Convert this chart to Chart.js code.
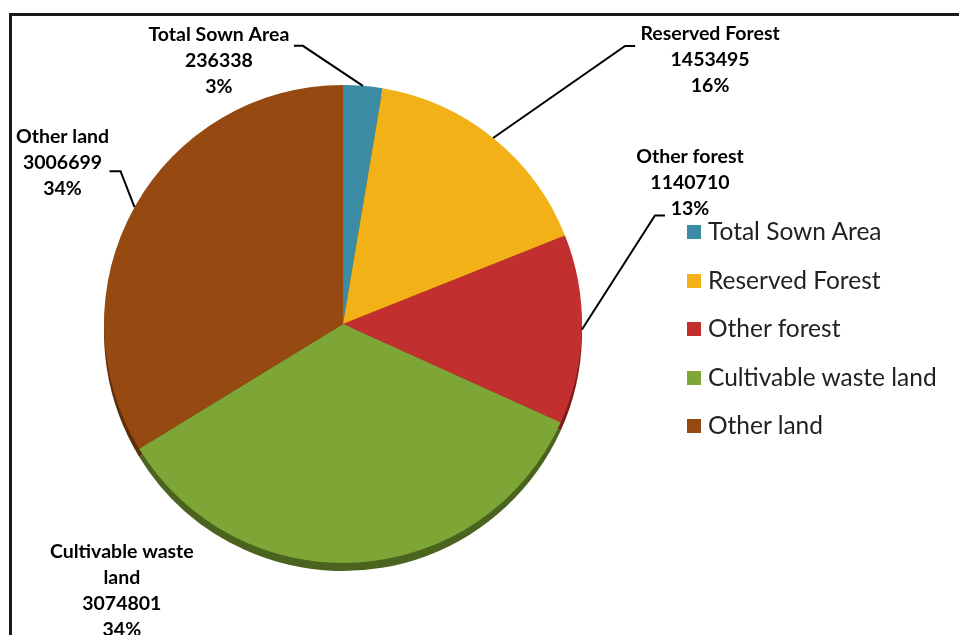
<!DOCTYPE html>
<html>
<head>
<meta charset="utf-8">
<script src="https://cdn.jsdelivr.net/npm/chart.js@4/dist/chart.umd.min.js"></script>
<style>
  html, body { margin: 0; padding: 0; background: #fff; overflow: hidden; }
  #wrap { position: relative; width: 959px; height: 635px; overflow: hidden; }
  #lineTop { position: absolute; left: 9px; top: 13px; width: 950px; height: 3px; background: #1a1a1a; }
  #lineLeft { position: absolute; left: 9px; top: 13px; width: 3px; height: 622px; background: #1a1a1a; }
  #myChart { position: absolute; left: 0; top: 0; }
  #legend { position: absolute; left: 687px; top: 214px; font-family: Lato, sans-serif; font-size: 24.5px; color: #222; }
  #legend div { height: 48.5px; line-height: 34px; white-space: nowrap; }
  #legend span.box { display: inline-block; width: 14px; height: 14px; margin-right: 7px; vertical-align: 1px; }
</style>
</head>
<body>
<div id="wrap">
  <div id="lineTop"></div>
  <div id="lineLeft"></div>
  <canvas id="myChart" width="959" height="635"></canvas>
  <div id="legend"></div>
</div>
<script>
// land use data
var labels = ['Total Sown Area', 'Reserved Forest', 'Other forest', 'Cultivable waste land', 'Other land'];
var values = [236338, 1453495, 1140710, 3074801, 3006699];
var percents = [3, 16, 13, 34, 34]; // as printed on the chart
var colors = ['#3b8ca4', '#f2b116', '#c1302f', '#7ea637', '#964a12'];
var rimColors = ['#245868', '#9a700c', '#7a1c1b', '#4a6420', '#5e2d0a'];

// label text lines (excel style, wrapped)
var labelLines = [
  ['Total Sown Area'],
  ['Reserved Forest'],
  ['Other forest'],
  ['Cultivable waste', 'land'],
  ['Other land']
];

// label placement, relative to the slice edge point
var labelOpts = [
  { tx: -144, ty: -51, ex: -60, ey: -40, hx: -9 },
  { tx: 217, ty: -104, ex: 132, ey: -92, hx: 10 },
  { tx: 108, ty: -173, ex: 73, ey: -114, hx: 10 },
  { tx: -236, ty: -11, ex: null },
  { tx: -72, ty: -70, ex: -14, ey: -36, hx: -11 }
];

var rimPlugin = {
  id: 'rim',
  beforeDatasetsDraw: function (chart) {
    var ctx = chart.ctx;
    var arcs = chart.getDatasetMeta(0).data;
    ctx.save();
    arcs.forEach(function (arc, i) {
      var p = arc.getProps(['x', 'y', 'startAngle', 'endAngle', 'outerRadius']);
      ctx.beginPath();
      ctx.moveTo(p.x, p.y + 8);
      ctx.arc(p.x, p.y + 8, p.outerRadius, p.startAngle, p.endAngle);
      ctx.closePath();
      ctx.fillStyle = rimColors[i];
      ctx.fill();
    });
    ctx.restore();
  }
};

var labelPlugin = {
  id: 'outLabels',
  afterDatasetsDraw: function (chart) {
    var ctx = chart.ctx;
    var arcs = chart.getDatasetMeta(0).data;
    ctx.save();
    arcs.forEach(function (arc, i) {
      var p = arc.getProps(['x', 'y', 'startAngle', 'endAngle', 'outerRadius']);
      var mid = (p.startAngle + p.endAngle) / 2;
      var px = p.x + Math.cos(mid) * p.outerRadius;
      var py = p.y + Math.sin(mid) * p.outerRadius;
      var o = labelOpts[i];
      if (o.ex !== null) {
        ctx.beginPath();
        ctx.moveTo(px, py);
        ctx.lineTo(px + o.ex, py + o.ey);
        ctx.lineTo(px + o.ex + o.hx, py + o.ey);
        ctx.strokeStyle = '#000';
        ctx.lineWidth = 2;
        ctx.stroke();
      }
      var lines = labelLines[i].concat([String(values[i]), percents[i] + '%']);
      ctx.fillStyle = '#000';
      ctx.font = 'bold 19.5px Lato, sans-serif';
      ctx.textAlign = 'center';
      ctx.textBaseline = 'middle';
      lines.forEach(function (t, k) {
        ctx.fillText(t, px + o.tx, py + o.ty + k * 26);
      });
    });
    ctx.restore();
  }
};

var ctx = document.getElementById('myChart').getContext('2d');
var myChart = new Chart(ctx, {
  type: 'pie',
  data: {
    labels: labels,
    datasets: [{
      data: values,
      backgroundColor: colors,
      borderWidth: 0
    }]
  },
  options: {
    responsive: false,
    animation: false,
    layout: { padding: { left: 102, right: 375, top: 85, bottom: 72 } },
    plugins: {
      legend: { display: false },
      tooltip: { enabled: false }
    }
  },
  plugins: [rimPlugin, labelPlugin]
});

// legend on the right
var leg = document.getElementById('legend');
labels.forEach(function (l, i) {
  var d = document.createElement('div');
  d.innerHTML = '<span class="box" style="background:' + colors[i] + '"></span>' + l;
  leg.appendChild(d);
});
</script>
</body>
</html>
